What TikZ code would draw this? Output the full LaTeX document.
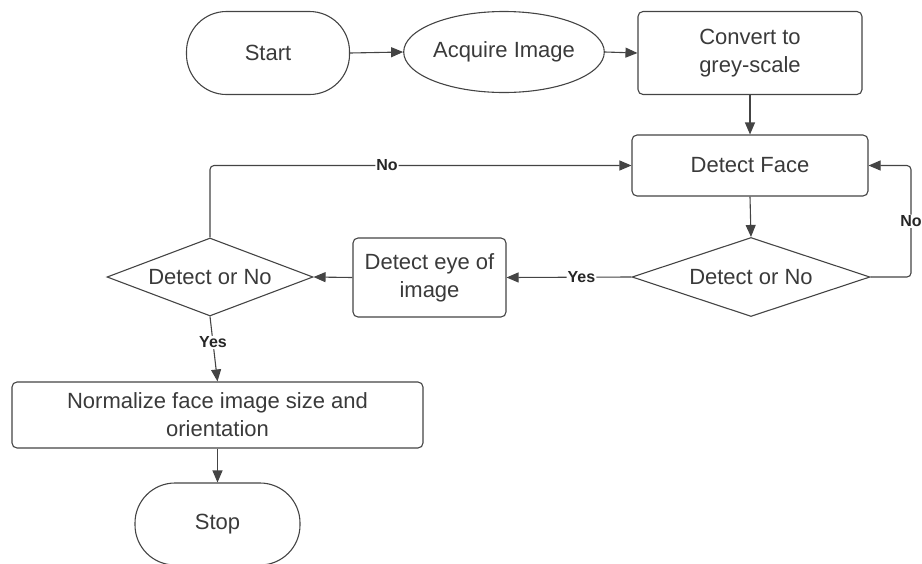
\documentclass[tikz,border=0pt]{standalone}
\usepackage{fontspec}
\setmainfont{Liberation Sans}
\usetikzlibrary{shapes.geometric,arrows.meta}
\definecolor{ln}{HTML}{444444}
\definecolor{tx}{HTML}{3A3A3A}
\tikzset{
  base/.style={draw=ln, line width=1.1pt, text=tx, font=\fontsize{22}{28}\selectfont, align=center, inner sep=0pt},
  term/.style={base, rectangle, rounded corners=40pt},
  proc/.style={base, rectangle, rounded corners=5pt},
  oval/.style={base, ellipse},
  dec/.style={base, diamond, aspect=3},
  conn/.style={draw=ln, line width=1.1pt, -{Triangle[length=12pt,width=10pt]}, rounded corners=4pt},
  lbl/.style={font=\fontsize{16}{19}\selectfont\bfseries, text=black!85, fill=white, inner sep=1pt}
}
\begin{document}
\begin{tikzpicture}[x=1pt,y=-1pt]
\useasboundingbox (0,0) rectangle (922,563);
\node[term, minimum width=163pt, minimum height=83pt] (start) at (268,53) {Start};
\node[oval, minimum width=186pt, minimum height=81pt] (acq) at (504,52) {Acquire Image};
\node[proc, minimum width=224pt, minimum height=83pt] (conv) at (750,53) {Convert to\\grey-scale};
\node[proc, minimum width=236pt, minimum height=61pt] (face) at (750,165.5) {Detect Face};
\node[dec, minimum width=238pt, minimum height=79pt] (d1) at (751,277) {Detect or No};
\node[proc, minimum width=153pt, minimum height=79pt] (eye) at (429.5,277.5) {Detect eye of\\image};
\node[dec, minimum width=206pt, minimum height=78pt] (d2) at (210,277) {Detect or No};
\node[proc, minimum width=411pt, minimum height=66pt] (norm) at (217.5,415) {Normalize face image size and\\orientation};
\node[term, minimum width=165pt, minimum height=82pt] (stop) at (217.5,524) {Stop};
\coordinate (r1) at (911,277);
\draw[conn] (start.east) -- (acq.west);
\draw[conn] (acq.east) -- (conv.west);
\draw[conn] (conv.south) -- (face.north);
\draw[conn] (face.south) -- (d1.north);
\draw[conn] (d1.east) -- (r1) |- node[lbl, pos=0.25] {No} (face.east);
\draw[conn] (d1.west) -- node[lbl, pos=0.4] {Yes} (eye.east);
\draw[conn] (eye.west) -- (d2.east);
\draw[conn] (d2.north) |- node[lbl, pos=0.71] {No} (face.west);
\draw[conn] (d2.south) -- node[lbl, pos=0.4] {Yes} (norm.north);
\draw[conn] (norm.south) -- (stop.north);
\end{tikzpicture}
\end{document}
